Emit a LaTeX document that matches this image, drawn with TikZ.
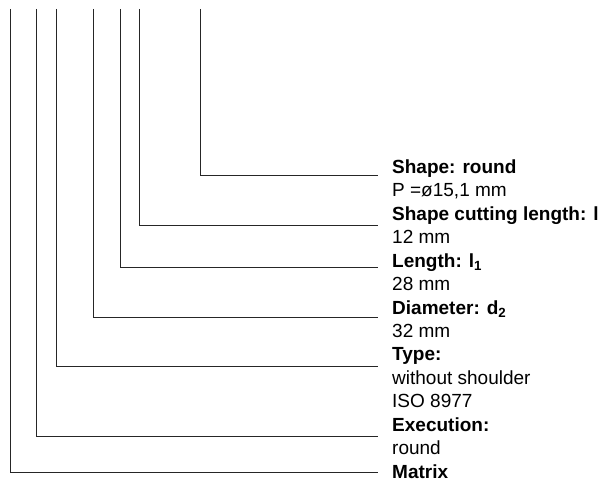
\documentclass[tikz,border=0pt]{standalone}
\usepackage{fontspec}
\setmainfont{Liberation Sans}
\usepackage{tikz}
\usetikzlibrary{positioning}
\tikzset{
    hdr/.style={anchor=base west, inner sep=0pt, font=\fontsize{19}{23.45}\selectfont\bfseries},
    val/.style={anchor=base west, inner sep=0pt, font=\fontsize{19}{23.45}\selectfont},
    lead/.style={draw=black!85, line width=0.8pt}
}

\begin{document}
\begin{tikzpicture}[x=1pt, y=-1pt, node distance=23.45pt]
    \useasboundingbox (0,0) rectangle (607,481);
    % Place the text lines
    \node [hdr] (shape) at (392,173.3) {Shape: round};
    \node [val, below=of shape.base west, anchor=base west] (shapeval) {P =ø15,1 mm};
    \node [hdr, below=of shapeval.base west, anchor=base west] (cut) {Shape cutting length: l};
    \node [val, below=of cut.base west, anchor=base west] (cutval) {12 mm};
    \node [hdr, below=of cutval.base west, anchor=base west] (len) {Length: l\textsubscript{1}};
    \node [val, below=of len.base west, anchor=base west] (lenval) {28 mm};
    \node [hdr, below=of lenval.base west, anchor=base west] (diam) {Diameter: d\textsubscript{2}};
    \node [val, below=of diam.base west, anchor=base west] (diamval) {32 mm};
    \node [hdr, below=of diamval.base west, anchor=base west] (type) {Type:};
    \node [val, below=of type.base west, anchor=base west] (typeval) {without shoulder};
    \node [val, below=of typeval.base west, anchor=base west] (typeiso) {ISO 8977};
    \node [hdr, below=of typeiso.base west, anchor=base west] (exec) {Execution:};
    \node [val, below=of exec.base west, anchor=base west] (execval) {round};
    \node [hdr, below=of execval.base west, anchor=base west] (matrix) {Matrix};

    % Upper ends of the leader lines
    \coordinate (tshape) at (200,9);
    \coordinate (tcut) at (139,9);
    \coordinate (tlen) at (120,9);
    \coordinate (tdiam) at (93,9);
    \coordinate (ttype) at (56,9);
    \coordinate (texec) at (36,9);
    \coordinate (tmatrix) at (10,9);

    % Draw leader lines
    \draw [lead] (tshape) |- ([xshift=-14pt, yshift=-1.7pt]shape.base west);
    \draw [lead] (tcut) |- ([xshift=-14pt, yshift=-4.8pt]cut.base west);
    \draw [lead] (tlen) |- ([xshift=-14pt]len.base west);
    \draw [lead] (tdiam) |- ([xshift=-14pt, yshift=-3pt]diam.base west);
    \draw [lead] (ttype) |- ([xshift=-14pt, yshift=-5pt]type.base west);
    \draw [lead] (texec) |- ([xshift=-14pt, yshift=-4.7pt]exec.base west);
    \draw [lead] (tmatrix) |- ([xshift=-14pt, yshift=6.2pt]matrix.base west);
\end{tikzpicture}
\end{document}
